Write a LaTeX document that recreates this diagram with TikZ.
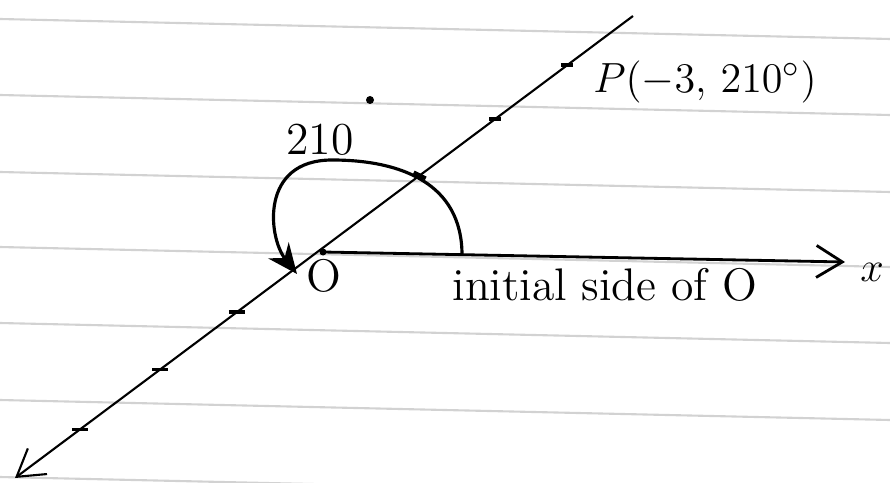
\documentclass[tikz,border=0pt]{standalone}
\usetikzlibrary{arrows.meta}

\begin{document}
\begin{tikzpicture}[
  rule/.style={gray!35, line width=0.6pt},
  axis/.style={-{Straight Barb[length=2.6mm, width=3.2mm]}, thick},
  ray/.style={semithick},
  tick/.style={line width=1.1pt},
  turn/.style={-{Stealth[length=3mm, width=2.6mm]}, line width=0.9pt},
  lbl/.style={font=\fontsize{13}{15}\selectfont}
]
\useasboundingbox (0,0) rectangle (8.9,4.82);

% ruled paper
\begin{scope}
\clip (0,0) rectangle (8.9,4.82);
\draw[rule] (0,4.63) -- (8.9,4.43);
\draw[rule] (0,3.87) -- (8.9,3.67);
\draw[rule] (0,3.10) -- (8.9,2.90);
\draw[rule] (0,2.35) -- (8.9,2.15);
\draw[rule] (0,1.59) -- (8.9,1.39);
\draw[rule] (0,0.82) -- (8.9,0.62);
\draw[rule] (0,0.05) -- (8.9,-0.15);
\end{scope}

\coordinate (O) at (3.23,2.30);
\coordinate (xend) at (8.45,2.20);
\coordinate (lo) at (0.15,0.04);
\coordinate (hi) at (6.33,4.66);

% axes
\draw[axis] (O) -- (xend);
\draw[ray, -{Straight Barb[length=2.6mm, width=3.2mm]}] (hi) -- (lo);
\fill (O) circle (0.035);

% unit marks on the line
\path (lo) -- (hi)
  coordinate[pos=0.105] (m1) coordinate[pos=0.235] (m2) coordinate[pos=0.359] (m3)
  coordinate[pos=0.655] (m4) coordinate[pos=0.777] (m5) coordinate[pos=0.893] (m6);
\draw[tick] (m1) ++(-0.08,0) -- ++(0.16,0);
\draw[tick] (m2) ++(-0.08,0) -- ++(0.16,0);
\draw[tick] (m3) ++(-0.08,0) -- ++(0.16,0);
\draw[tick] (m4) ++(-0.06,0.03) -- ++(0.12,-0.06);
\draw[tick] (m5) ++(-0.06,0) -- ++(0.12,0);
\draw[tick] (m6) ++(-0.06,0) -- ++(0.12,0);

% angle of rotation
\coordinate (sa) at (4.62,2.27);
\coordinate (ea) at (2.97,2.08);
\draw[turn] (sa) .. controls (4.62,2.98) and (4.02,3.22) .. (3.32,3.22)
  .. controls (2.60,3.22) and (2.68,2.45) .. (ea);

% labels
\node[lbl] (P) at (7.05,4.00) {$P(-3,\,210^{\circ})$};
\node[lbl] (ang) at (3.20,3.42) {210};
\fill (3.70,3.82) circle (0.04);
\node[lbl] (Olbl) at (3.24,2.06) {O};
\node[lbl] (init) at (6.05,1.97) {initial side of O};
\node[lbl] (xlbl) at (8.72,2.10) {$x$};
\end{tikzpicture}
\end{document}
